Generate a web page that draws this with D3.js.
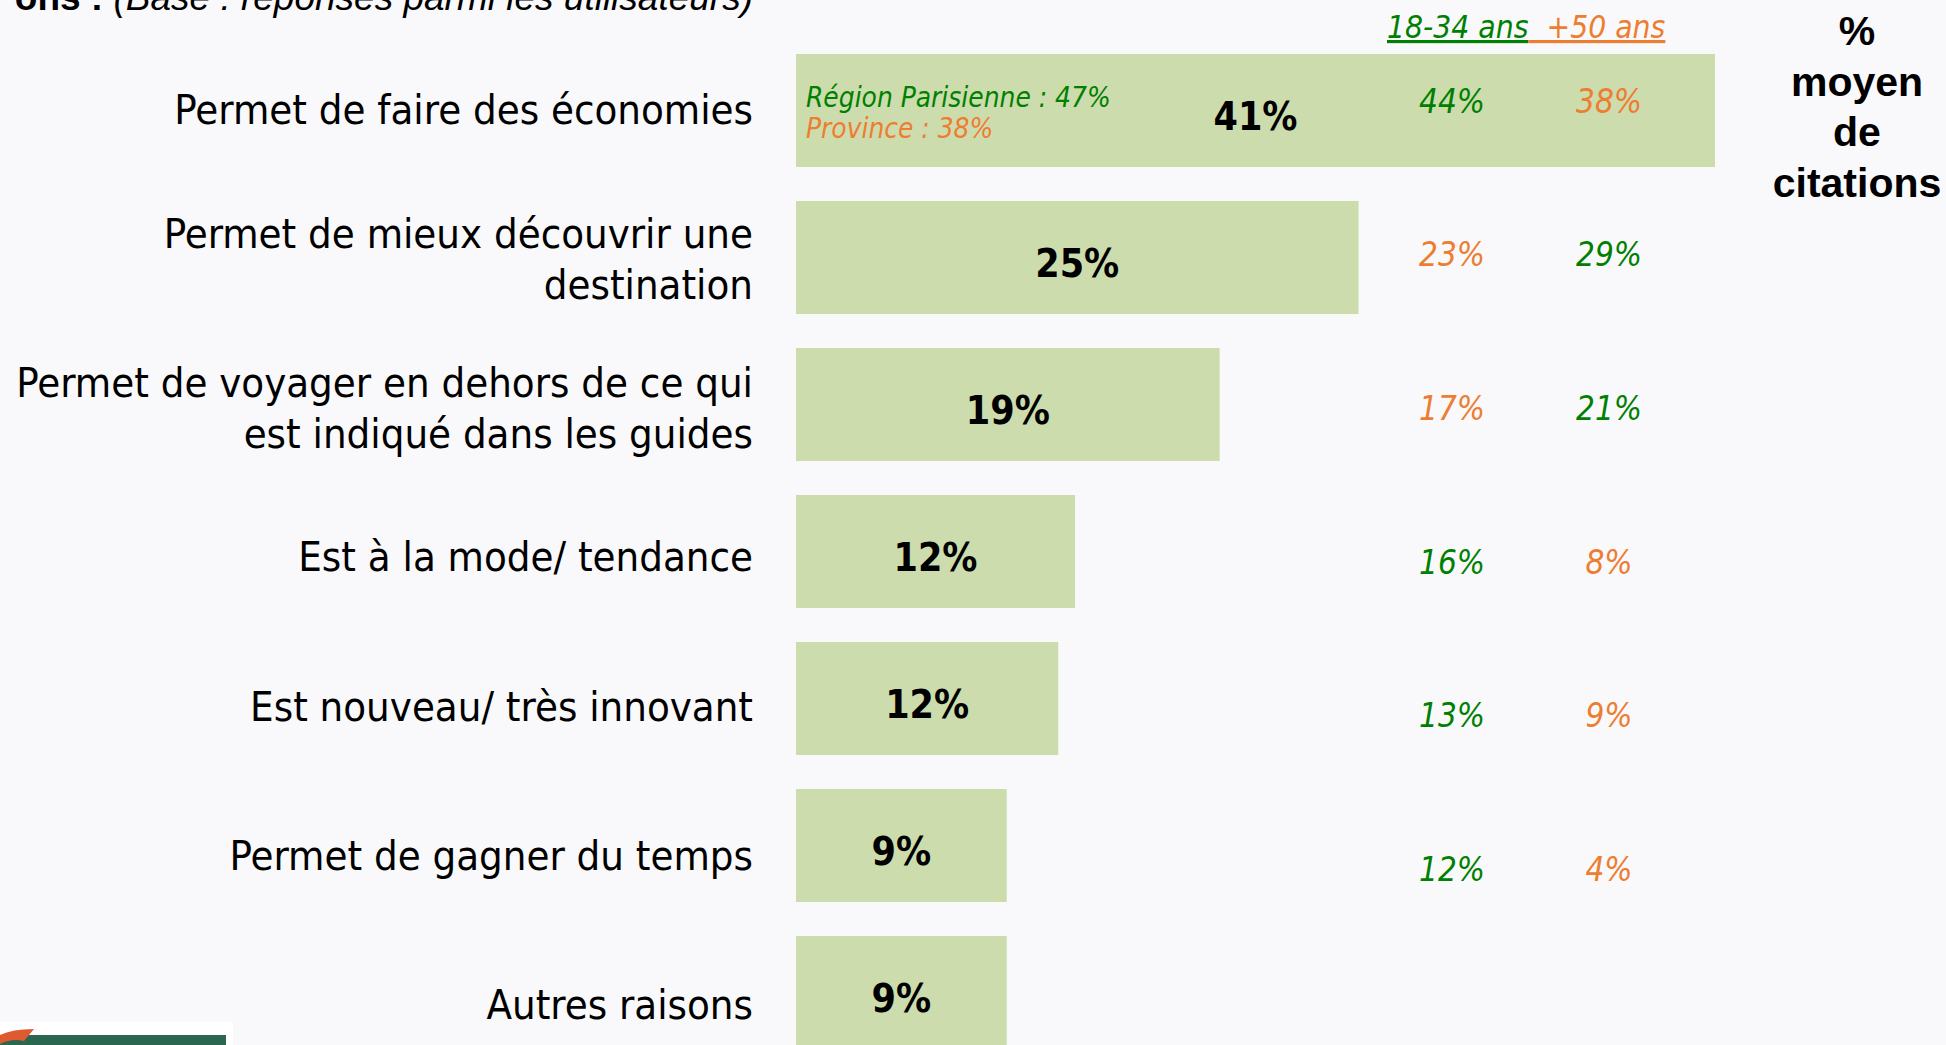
<!DOCTYPE html>
<html>
<head>
<meta charset="utf-8">
<script src="https://cdn.jsdelivr.net/npm/d3@7"></script>
<style>
    body {margin: 0; background: #f9f9fb; overflow: hidden;}
    svg {display: block;}
    .lbl {font-family: "DejaVu Sans Condensed", "DejaVu Sans", sans-serif;}
</style>
</head>
<body>
<svg id="chart"></svg>
<script>
// data
const categories = [
    'Permet de faire des économies',
    'Permet de mieux découvrir une\ndestination',
    'Permet de voyager en dehors de ce qui\nest indiqué dans les guides',
    'Est à la mode/ tendance',
    'Est nouveau/ très innovant',
    'Permet de gagner du temps',
    'Autres raisons'
];
const values = [41, 25.1, 18.9, 12.45, 11.7, 9.4, 9.4];
const young = [44, 29, 21, 16, 13, 12];      // 18-34 ans
const senior = [38, 23, 17, 8, 9, 4];        // +50 ans
const seniorFirst = [false, true, true, false, false, false];
const groups = ['18-34 ans', '+50 ans'];
const regions = ['Région Parisienne', 'Province'];
const regionValues = [47, 38];
const sideTitle = ['%', 'moyen', 'de', 'citations'];
const titleBold = 'ons :';
const titleItalic = '(Base : réponses parmi les utilisateurs)';

let graphicopt = {
        width: 1946,
        height: 1045,
        barLeft: 796,
        barRight: 1715,
        labelRight: 753,
        barcolor: '#cddcad',
        green: '#008000',
        orange: '#ed7d31'
    };

const svg = d3.select('#chart')
    .attr('width', graphicopt.width)
    .attr('height', graphicopt.height);

const x = d3.scaleLinear()
    .domain([0, d3.max(values)])
    .range([graphicopt.barLeft, graphicopt.barRight]);

const y = d3.scaleBand()
    .domain(d3.range(categories.length))
    .range([37, 1066])
    .paddingInner(0.231)
    .paddingOuter(0.1155);

// category labels sit on their own slightly different grid
const yLabel = d3.scalePoint()
    .domain(d3.range(categories.length))
    .range([109, 1004]);

const ySide = d3.scalePoint()
    .domain(d3.range(young.length))
    .range([101, 869]);

const xSide = d3.scalePoint()
    .domain([0, 1])
    .range([1452, 1609]);

const colorOf = g => g === 0 ? graphicopt.green : graphicopt.orange;

// title (cut off at the top of the slide)
let title = svg.append('text')
    .attr('x', graphicopt.labelRight)
    .attr('y', 10)
    .style('text-anchor', 'end')
    .style('font-family', '"Liberation Sans", Arial, sans-serif')
    .style('font-size', '37px');
title.append('tspan').style('font-weight', 'bold').text(titleBold + ' ');
title.append('tspan').style('font-style', 'italic').text(titleItalic);

// bars
let bar_g = svg.append('g').attr('class', 'bars')
    .selectAll('.bar')
    .data(values)
    .enter()
    .append('g')
    .attr('class', 'bar')
    .attr('transform', (d, i) => `translate(0,${y(i)})`);

bar_g.append('rect')
    .attr('x', x(0))
    .attr('width', d => x(d) - x(0))
    .attr('height', y.bandwidth())
    .style('fill', graphicopt.barcolor);

bar_g.append('text')
    .attr('class', 'lbl')
    .attr('x', d => (x(0) + x(d)) / 2)
    .attr('y', y.bandwidth() / 2 + 5)
    .attr('dy', '0.36em')
    .style('text-anchor', 'middle')
    .style('font-weight', 'bold')
    .style('font-size', '39px')
    .style('fill', '#000')
    .text(d => Math.round(d) + '%');

// category labels
let cat = svg.append('g').attr('class', 'categories')
    .selectAll('text')
    .data(categories)
    .enter()
    .append('text')
    .attr('class', 'lbl')
    .style('text-anchor', 'end')
    .style('font-size', '41.5px')
    .style('fill', '#000');

cat.each(function (d, i) {
    const lines = d.split('\n');
    const lh = 51;
    d3.select(this).selectAll('tspan')
        .data(lines)
        .enter()
        .append('tspan')
        .attr('x', graphicopt.labelRight)
        .attr('y', (l, j) => yLabel(i) - (lines.length - 1) * lh / 2 + j * lh)
        .attr('dy', '0.36em')
        .text(l => l);
});

// region split inside the first bar
svg.append('g').attr('class', 'regions')
    .selectAll('text')
    .data(regions)
    .enter()
    .append('text')
    .attr('class', 'lbl')
    .attr('x', 806)
    .attr('y', (d, i) => 107 + i * 31)
    .style('font-style', 'italic')
    .style('font-size', '27.8px')
    .style('fill', (d, i) => colorOf(i))
    .text((d, i) => `${d} : ${regionValues[i]}%`);

// age header
let head = svg.append('text')
    .attr('class', 'lbl')
    .attr('x', 1387)
    .attr('y', 38)
    .style('font-style', 'italic')
    .style('font-size', '31.5px');
head.append('tspan')
    .style('fill', graphicopt.green)
    .style('text-decoration', 'underline')
    .text(groups[0]);
head.append('tspan')
    .style('fill', graphicopt.orange)
    .style('text-decoration', 'underline')
    .style('white-space', 'pre')
    .text('  ' + groups[1]);

// age values, two columns
let side = svg.append('g').attr('class', 'ages')
    .selectAll('.row')
    .data(young)
    .enter()
    .append('g')
    .attr('class', 'row')
    .attr('transform', (d, i) => `translate(0,${ySide(i)})`);

side.each(function (d, i) {
    const pair = [{g: 0, v: young[i]}, {g: 1, v: senior[i]}];
    if (seniorFirst[i]) pair.reverse();
    d3.select(this).selectAll('text')
        .data(pair)
        .enter()
        .append('text')
        .attr('class', 'lbl')
        .attr('x', (p, j) => xSide(j))
        .attr('dy', '0.36em')
        .style('text-anchor', 'middle')
        .style('font-style', 'italic')
        .style('font-size', '33px')
        .style('fill', p => colorOf(p.g))
        .text(p => p.v + '%');
});

// right side title
svg.append('g').attr('class', 'side-title')
    .selectAll('text')
    .data(sideTitle)
    .enter()
    .append('text')
    .attr('x', 1857)
    .attr('y', (d, i) => 45 + i * 50.7)
    .style('text-anchor', 'middle')
    .style('font-family', '"Liberation Sans", Arial, sans-serif')
    .style('font-weight', 'bold')
    .style('font-size', '41px')
    .style('fill', '#000')
    .text(d => d);

// logo strip bottom left
let logo = svg.append('g').attr('class', 'logo');
logo.append('rect').attr('x', 0).attr('y', 1022).attr('width', 233).attr('height', 23).style('fill', '#fff');
logo.append('rect').attr('x', 0).attr('y', 1035).attr('width', 226).attr('height', 10).style('fill', '#2a6650');
logo.append('path')
    .attr('d', 'M0,1044 L0,1035 Q12,1029 34,1029 L24,1041 Q12,1038 0,1044 Z')
    .style('fill', '#e05a30');
</script>
</body>
</html>
